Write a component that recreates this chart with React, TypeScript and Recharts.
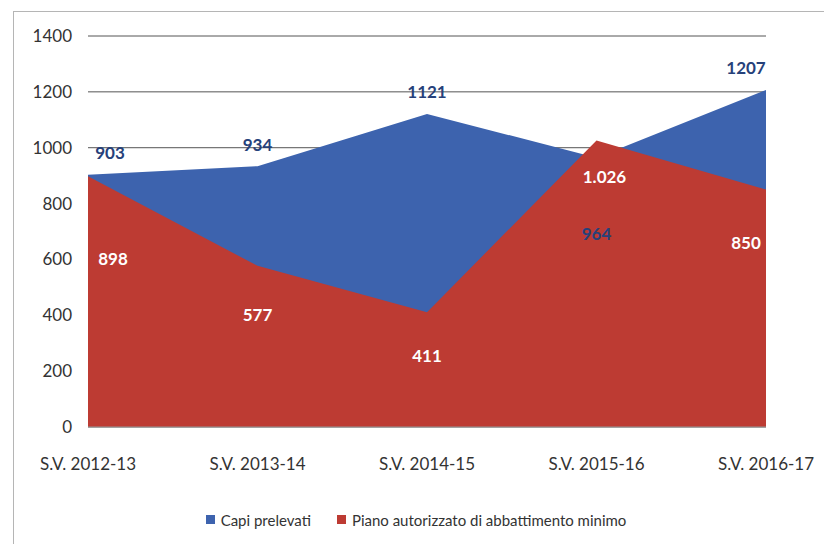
import { AreaChart, Area, XAxis, YAxis, CartesianGrid, LabelList } from 'recharts';

const seasons = ['S.V. 2012-13', 'S.V. 2013-14', 'S.V. 2014-15', 'S.V. 2015-16', 'S.V. 2016-17'];
const capiPrelevati = [903, 934, 1121, 964, 1207];
const pianoMinimo = [898, 577, 411, 1026, 850];
const yTicks = [0, 200, 400, 600, 800, 1000, 1200, 1400];

const BLUE = '#3d63ae';
const RED = '#bd3b33';
const NAVY = '#26417a';
const FONT = 'Lato, "Open Sans", sans-serif';

const data = seasons.map((s, i) => ({ season: s, capi: capiPrelevati[i], piano: pianoMinimo[i] }));

const fmtIt = (v: number) =>
  v >= 1000 ? `${Math.floor(v / 1000)}.${String(v % 1000).padStart(3, '0')}` : String(v);

// label placement tweaks (styling only)
const RED_DY = [84, 51, 45, 38, 55];

function edgeShift(index: number) {
  if (index === 0) return 22;
  if (index === seasons.length - 1) return -20;
  return 0;
}

function BlueLabel(props: any) {
  const { x, y, value, index } = props;
  const hidden = capiPrelevati[index] < pianoMinimo[index];
  return (
    <text
      x={x + edgeShift(index)}
      y={hidden ? y + 78 : y - 20}
      textAnchor="middle"
      dominantBaseline="middle"
      fill={NAVY}
      fontFamily={FONT}
      fontWeight={700}
      fontSize={17}
    >
      {value}
    </text>
  );
}

function RedLabel(props: any) {
  const { x, y, value, index } = props;
  return (
    <text
      x={x + edgeShift(index) + (index === 0 ? 3 : 0) + (index === 3 ? 8 : 0)}
      y={y + RED_DY[index]}
      textAnchor="middle"
      dominantBaseline="middle"
      fill="#ffffff"
      fontFamily={FONT}
      fontWeight={700}
      fontSize={17}
    >
      {fmtIt(value)}
    </text>
  );
}

function LegendRow() {
  const item = (color: string, label: string) => (
    <span style={{ display: 'inline-flex', alignItems: 'center', marginRight: 26 }}>
      <span style={{ width: 9, height: 9, background: color, display: 'inline-block', marginRight: 6 }} />
      {label}
    </span>
  );
  return (
    <div
      style={{
        position: 'absolute',
        top: 509,
        left: 0,
        width: 858,
        textAlign: 'center',
        fontFamily: FONT,
        fontSize: 15,
        color: '#333',
      }}
    >
      {item(BLUE, 'Capi prelevati')}
      {item(RED, 'Piano autorizzato di abbattimento minimo')}
    </div>
  );
}

export default function App() {
  return (
    <div style={{ position: 'absolute', top: 0, left: 0, width: 824, height: 544, background: '#fff' }}>
      <div
        style={{
          position: 'absolute',
          top: 11,
          left: 13,
          width: 820,
          height: 540,
          border: '1px solid #b5b5b5',
        }}
      />
      <AreaChart
        width={824}
        height={544}
        data={data}
        margin={{ top: 36, right: 58, left: 28, bottom: 87 }}
      >
        <CartesianGrid vertical={false} stroke="#555" strokeWidth={1} />
        <XAxis
          dataKey="season"
          height={30}
          tickLine={false}
          axisLine={{ stroke: '#999' }}
          tickSize={0}
          tickMargin={31}
          interval={0}
          tick={{ fontSize: 17, fill: '#333', fontFamily: FONT }}
        />
        <YAxis
          domain={[0, 1400]}
          ticks={yTicks}
          width={60}
          axisLine={false}
          tickLine={false}
          tickSize={0}
          tickMargin={16}
          tick={{ fontSize: 17, fill: '#333', fontFamily: FONT }}
        />
        <Area
          type="linear"
          dataKey="capi"
          stroke="none"
          fill={BLUE}
          fillOpacity={1}
          isAnimationActive={false}
        >
          <LabelList dataKey="capi" content={<BlueLabel />} />
        </Area>
        <Area
          type="linear"
          dataKey="piano"
          stroke="none"
          fill={RED}
          fillOpacity={1}
          isAnimationActive={false}
        >
          <LabelList dataKey="piano" content={<RedLabel />} />
        </Area>
      </AreaChart>
      <LegendRow />
    </div>
  );
}
